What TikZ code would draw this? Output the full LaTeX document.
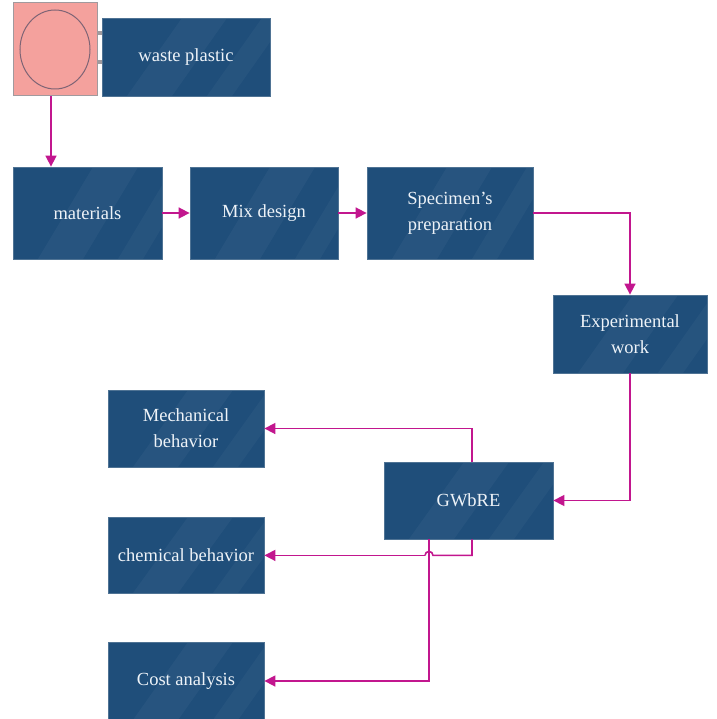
\documentclass[tikz,border=0pt]{standalone}
\usepackage{fontspec}
\setmainfont{Liberation Serif}
\usetikzlibrary{arrows.meta}
\definecolor{boxblue}{HTML}{1F4E7A}
\definecolor{boxedge}{HTML}{4F7394}
\definecolor{arrowmag}{HTML}{C2168E}
\definecolor{plasticpink}{HTML}{F4A19D}
\definecolor{plasticedge}{HTML}{A09A9E}
\definecolor{ringedge}{HTML}{7E6475}
\definecolor{boxtext}{HTML}{EEF3F8}
\begin{document}
\begin{tikzpicture}[x=1pt,y=-1pt,
  box/.style={rectangle, fill=boxblue, draw=boxedge, line width=0.8pt,
    text=boxtext, font=\fontsize{18.5}{26}\selectfont, align=center, inner sep=2pt,
    path picture={
      \fill[white,opacity=0.04]
        ([xshift=25pt]path picture bounding box.south west) --
        ([xshift=70pt]path picture bounding box.south west) --
        ([xshift=125pt]path picture bounding box.north west) --
        ([xshift=80pt]path picture bounding box.north west) -- cycle;
      \fill[white,opacity=0.035]
        ([xshift=105pt]path picture bounding box.south west) --
        ([xshift=130pt]path picture bounding box.south west) --
        ([xshift=185pt]path picture bounding box.north west) --
        ([xshift=160pt]path picture bounding box.north west) -- cycle;
    }},
  flow/.style={draw=arrowmag, line width=1.6pt, -{Triangle[length=11pt,width=11pt]}}
]
\useasboundingbox[fill=white] (0,0) rectangle (716,719);

% icon
\node[rectangle, fill=plasticpink, draw=plasticedge, line width=1pt,
  minimum width=84pt, minimum height=93pt, inner sep=0pt] (plasticicon) at (55,49.5) {};
\draw[ringedge, line width=1pt] (plasticicon.center) ellipse [x radius=35, y radius=39.5];
\fill[plasticedge] (97,31.5) rectangle (102,35.5);
\fill[plasticedge] (97,60.5) rectangle (102,64.5);

% boxes
\node[box, minimum width=168pt, minimum height=78pt] (waste) at (186,57) {waste plastic};
\node[box, minimum width=149pt, minimum height=92pt] (materials) at (87.5,213) {materials};
\node[box, minimum width=148pt, minimum height=92pt] (mix) at (264,213) {Mix design};
\node[box, minimum width=166pt, minimum height=92pt] (spec) at (450,213) {Specimen's\\preparation};
\node[box, minimum width=154pt, minimum height=78pt] (exp) at (630,334) {Experimental\\work};
\node[box, minimum width=156pt, minimum height=77pt] (mech) at (186,428.5) {Mechanical\\behavior};
\node[box, minimum width=169pt, minimum height=77pt] (gwbre) at (468.5,500.5) {GWbRE};
\node[box, minimum width=156pt, minimum height=76pt] (chem) at (186,555) {chemical behavior};
\node[box, minimum width=156pt, minimum height=78pt] (cost) at (186,681) {Cost analysis};

% connectors
\draw[flow] ([xshift=-4pt]plasticicon.south) -- ([xshift=-4pt]plasticicon.south |- materials.north);
\draw[flow] (materials.east) -- (mix.west);
\draw[flow] (mix.east) -- (spec.west);
\draw[flow] (spec.east) -| (exp.north);
\draw[flow] (exp.south) |- (gwbre.east);
\draw[flow] ([xshift=3.5pt]gwbre.north) |- (mech.east);
\draw[flow] ([xshift=-39.5pt]gwbre.south) |- (cost.east);
\coordinate (hopstart) at ([xshift=-35.5pt,yshift=-16pt]gwbre.south);
\coordinate (hopend) at ([xshift=-43.5pt,yshift=-16pt]gwbre.south);
\draw[draw=arrowmag, line width=1.6pt] ([xshift=3.5pt]gwbre.south) |- (hopstart)
  arc[start angle=0, end angle=180, radius=4pt];
\draw[flow] (hopend) -- (hopend -| chem.east);
\end{tikzpicture}
\end{document}
